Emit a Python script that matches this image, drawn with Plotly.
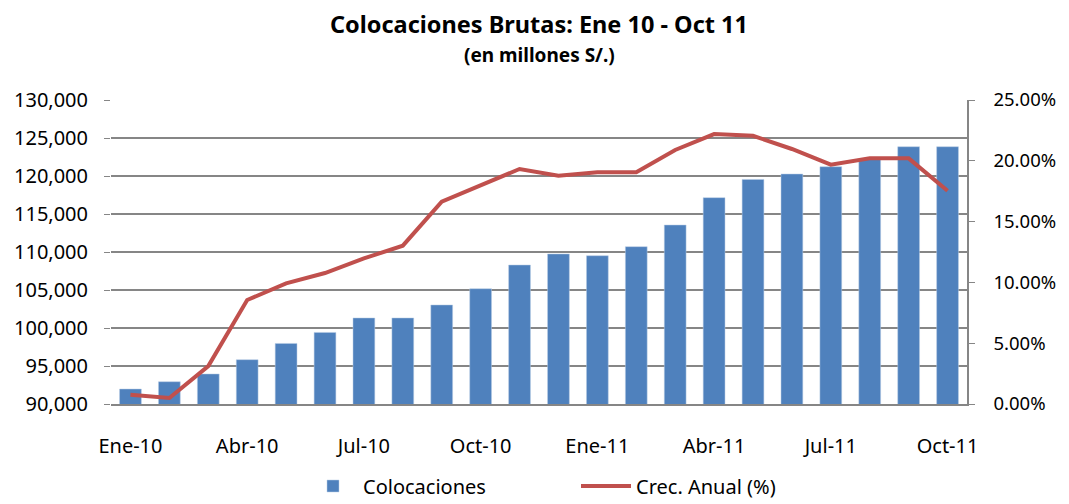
import plotly.graph_objects as go

# meses Ene-10 .. Oct-11
meses = ["Ene-10", "Feb-10", "Mar-10", "Abr-10", "May-10", "Jun-10", "Jul-10", "Ago-10",
         "Sep-10", "Oct-10", "Nov-10", "Dic-10", "Ene-11", "Feb-11", "Mar-11", "Abr-11",
         "May-11", "Jun-11", "Jul-11", "Ago-11", "Sep-11", "Oct-11"]

colocaciones = [91970, 92930, 93950, 95830, 97970, 99420, 101320, 101320, 103030, 105170,
                108290, 109740, 109510, 110700, 113550, 117150, 119550, 120260, 121220,
                122240, 123850, 123850]

crec_anual = [0.0076, 0.0049, 0.0312, 0.0855, 0.0992, 0.1077, 0.1197, 0.1302, 0.1664, 0.1803,
              0.1933, 0.1877, 0.1905, 0.1905, 0.2089, 0.2220, 0.2206, 0.2097, 0.1968, 0.2020,
              0.2020, 0.1754]

ticks_x = ["Ene-10", "Abr-10", "Jul-10", "Oct-10", "Ene-11", "Abr-11", "Jul-11", "Oct-11"]

fnt = "Noto Sans"
gris = "#868686"

# the page body has an 8px margin, so the figure is 8px smaller and shifted
W, H = 1061, 496

fig = go.Figure()
fig.add_trace(go.Bar(x=meses, y=colocaciones, name="Colocaciones",
                     marker=dict(color="#4F81BD", line=dict(color="#B9CDE5", width=0.5)),
                     width=0.56))
fig.add_trace(go.Scatter(x=meses, y=crec_anual, name="Crec. Anual (%)", yaxis="y2",
                         mode="lines", line=dict(color="#C0504D", width=4)))

# subtitulo
fig.add_annotation(text="<b>(en millones S/.)</b>", xref="paper", yref="paper",
                   x=0.5, y=1 + 45 / 304, xanchor="center", yanchor="middle",
                   showarrow=False, font=dict(family=fnt, size=19))

fig.update_layout(
    width=W, height=H,
    margin=dict(l=103, r=102, t=92, b=100, autoexpand=False),
    paper_bgcolor="white", plot_bgcolor="white",
    font=dict(family=fnt, size=18, color="black"),
    title=dict(text="<b>Colocaciones Brutas: Ene 10 - Oct 11</b>",
               x=0.5, xanchor="center", xref="paper", yref="container",
               y=1 - 17 / H, yanchor="middle",
               font=dict(family=fnt, size=23.5)),
    showlegend=True,
    legend=dict(orientation="h", x=(295 - 103) / 856, xanchor="left",
                y=-82 / 304, yanchor="middle",
                font=dict(family=fnt, size=20), itemwidth=50,
                entrywidth=208, entrywidthmode="pixels"),
    xaxis=dict(type="category", tickmode="array", tickvals=ticks_x, ticktext=ticks_x,
               showline=True, linecolor=gris, linewidth=1.5, ticks="",
               ticklabelstandoff=23, tickfont=dict(size=20), showgrid=False),
    yaxis=dict(range=[90000, 130000], dtick=5000, tickformat=",d",
               showgrid=True, gridcolor=gris, gridwidth=1.5,
               showline=False, zeroline=False, ticks="outside", ticklen=6,
               tickcolor=gris, ticklabelstandoff=12, tickfont=dict(size=20)),
    yaxis2=dict(range=[0, 0.25], dtick=0.05, tickformat=".2%", overlaying="y", side="right",
                showgrid=False, showline=True, linecolor=gris, linewidth=1.5,
                ticks="outside", ticklen=6, tickcolor=gris, zeroline=False,
                ticklabelstandoff=15, tickfont=dict(size=18.5)),
)

fig.write_html("out.html")
